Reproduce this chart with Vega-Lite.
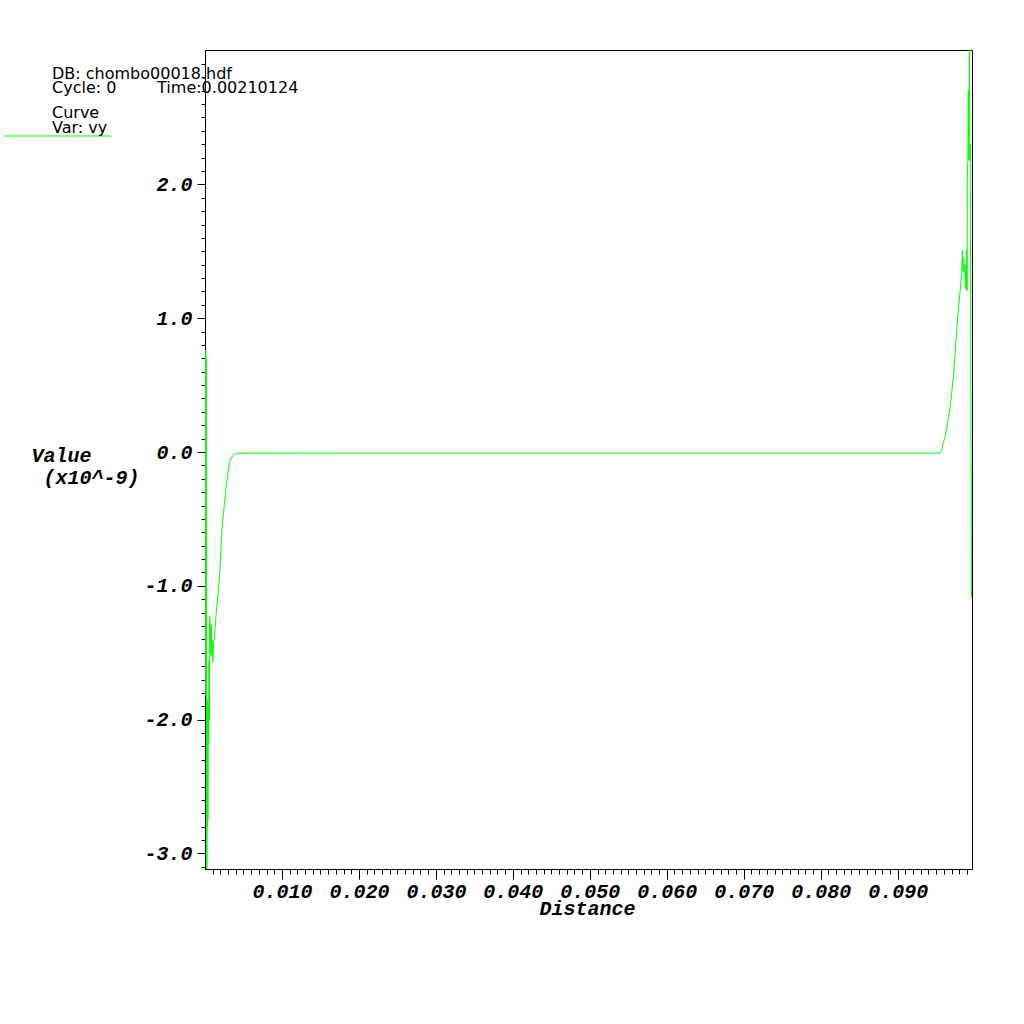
{
  "$schema": "https://vega.github.io/schema/vega-lite/v6.json",
  "width": 767,
  "height": 819,
  "autosize": {"type": "none"},
  "padding": {"left": 205, "top": 50, "right": 52, "bottom": 155},
  "background": "white",
  "config": {
    "view": {"stroke": "black", "strokeWidth": 1},
    "axis": {"grid": false, "domainColor": "black", "tickColor": "black", "labelColor": "black", "titleColor": "black", "domainWidth": 1, "tickWidth": 1}
  },
  "title": {
    "text": ["DB: chombo00018.hdf", "Cycle: 0\u00a0\u00a0\u00a0\u00a0\u00a0\u00a0\u00a0\u00a0Time:0.00210124"],
    "subtitle": ["Curve", "Var: vy"],
    "anchor": "start",
    "frame": "group",
    "orient": "top",
    "offset": 0,
    "dx": -153,
    "dy": 86,
    "font": "DejaVu Sans",
    "fontSize": 16,
    "fontWeight": "normal",
    "lineHeight": 14.5,
    "color": "black",
    "subtitleFont": "DejaVu Sans",
    "subtitleFontSize": 16,
    "subtitleFontWeight": "normal",
    "subtitleLineHeight": 15,
    "subtitleColor": "black",
    "subtitlePadding": 9
  },
  "data": {
    "values": [
      {"x": 0.00000, "y": -1.82},
      {"x": 0.00010, "y": 0.76},
      {"x": 0.00013, "y": -1.82},
      {"x": 0.00016, "y": 0.70},
      {"x": 0.00019, "y": -1.80},
      {"x": 0.00022, "y": -1.83},
      {"x": 0.00025, "y": -3.116},
      {"x": 0.00028, "y": -1.85},
      {"x": 0.00031, "y": -2.80},
      {"x": 0.00034, "y": -1.85},
      {"x": 0.00038, "y": -2.75},
      {"x": 0.00043, "y": -1.90},
      {"x": 0.00048, "y": -2.18},
      {"x": 0.00052, "y": -1.56},
      {"x": 0.00058, "y": -2.0},
      {"x": 0.00062, "y": -1.23},
      {"x": 0.00066, "y": -1.41},
      {"x": 0.00072, "y": -1.29},
      {"x": 0.00077, "y": -1.52},
      {"x": 0.00082, "y": -1.29},
      {"x": 0.00089, "y": -1.50},
      {"x": 0.00095, "y": -1.41},
      {"x": 0.00102, "y": -1.57},
      {"x": 0.00110, "y": -1.43},
      {"x": 0.00120, "y": -1.40},
      {"x": 0.00129, "y": -1.33},
      {"x": 0.00142, "y": -1.23},
      {"x": 0.00155, "y": -1.14},
      {"x": 0.00168, "y": -1.07},
      {"x": 0.00181, "y": -0.98},
      {"x": 0.00194, "y": -0.88},
      {"x": 0.00207, "y": -0.73},
      {"x": 0.00220, "y": -0.58},
      {"x": 0.00238, "y": -0.47},
      {"x": 0.00251, "y": -0.40},
      {"x": 0.00264, "y": -0.32},
      {"x": 0.00281, "y": -0.23},
      {"x": 0.00298, "y": -0.16},
      {"x": 0.00316, "y": -0.08},
      {"x": 0.00342, "y": -0.046},
      {"x": 0.00368, "y": -0.023},
      {"x": 0.00394, "y": -0.016},
      {"x": 0.00430, "y": -0.009},
      {"x": 0.0200, "y": -0.008},
      {"x": 0.0500, "y": -0.008},
      {"x": 0.0800, "y": -0.008},
      {"x": 0.09550, "y": -0.008},
      {"x": 0.09572, "y": 0.014},
      {"x": 0.09593, "y": 0.067},
      {"x": 0.09615, "y": 0.11},
      {"x": 0.09637, "y": 0.18},
      {"x": 0.09658, "y": 0.25},
      {"x": 0.09680, "y": 0.33},
      {"x": 0.09702, "y": 0.44},
      {"x": 0.09723, "y": 0.56},
      {"x": 0.09745, "y": 0.72},
      {"x": 0.09767, "y": 0.91},
      {"x": 0.09788, "y": 1.06},
      {"x": 0.09810, "y": 1.19},
      {"x": 0.09832, "y": 1.34},
      {"x": 0.09842, "y": 1.51},
      {"x": 0.09848, "y": 1.36},
      {"x": 0.09858, "y": 1.45},
      {"x": 0.09866, "y": 1.34},
      {"x": 0.09874, "y": 1.40},
      {"x": 0.09880, "y": 1.23},
      {"x": 0.09886, "y": 1.36},
      {"x": 0.09892, "y": 1.21},
      {"x": 0.09896, "y": 1.51},
      {"x": 0.09902, "y": 1.21},
      {"x": 0.09906, "y": 2.09},
      {"x": 0.09912, "y": 2.18},
      {"x": 0.09918, "y": 2.70},
      {"x": 0.09922, "y": 2.18},
      {"x": 0.09928, "y": 2.45},
      {"x": 0.09932, "y": 3.004},
      {"x": 0.09938, "y": 2.18},
      {"x": 0.09944, "y": 2.30},
      {"x": 0.09950, "y": 0.55},
      {"x": 0.09960, "y": -1.09}
    ]
  },
  "mark": {"type": "line", "strokeWidth": 1, "clip": true, "interpolate": "linear"},
  "encoding": {
    "x": {
      "field": "x",
      "type": "quantitative",
      "scale": {"domain": [0, 0.09966], "nice": false, "zero": false},
      "axis": {
        "orient": "bottom",
        "title": "Distance",
        "titleFont": "Liberation Mono",
        "titleFontWeight": "bold",
        "titleFontStyle": "italic",
        "titleFontSize": 20,
        "titleBaseline": "alphabetic",
        "titleAlign": "center",
        "titleX": 382,
        "titleY": 45,
        "values": [0.001,0.002,0.003,0.004,0.005,0.006,0.007,0.008,0.009,0.010,0.011,0.012,0.013,0.014,0.015,0.016,0.017,0.018,0.019,0.020,0.021,0.022,0.023,0.024,0.025,0.026,0.027,0.028,0.029,0.030,0.031,0.032,0.033,0.034,0.035,0.036,0.037,0.038,0.039,0.040,0.041,0.042,0.043,0.044,0.045,0.046,0.047,0.048,0.049,0.050,0.051,0.052,0.053,0.054,0.055,0.056,0.057,0.058,0.059,0.060,0.061,0.062,0.063,0.064,0.065,0.066,0.067,0.068,0.069,0.070,0.071,0.072,0.073,0.074,0.075,0.076,0.077,0.078,0.079,0.080,0.081,0.082,0.083,0.084,0.085,0.086,0.087,0.088,0.089,0.090,0.091,0.092,0.093,0.094,0.095,0.096,0.097,0.098,0.099],
        "labelExpr": "abs(datum.value*100 - round(datum.value*100)) < 0.001 ? format(datum.value, '.3f') : ''",
        "labelFont": "Liberation Mono",
        "labelFontWeight": "bold",
        "labelFontStyle": "italic",
        "labelFontSize": 20,
        "labelPadding": 2,
        "labelOverlap": false,
        "labelFlush": false,
        "tickSize": {"condition": {"test": "abs(datum.value*100 - round(datum.value*100)) < 0.001", "value": 10}, "value": 5}
      }
    },
    "y": {
      "field": "y",
      "type": "quantitative",
      "scale": {"domain": [-3.116, 3.004], "nice": false, "zero": false},
      "axis": {
        "orient": "left",
        "title": ["Value", "\u200b\u00a0(x10^-9)"],
        "titleAngle": 0,
        "titleAlign": "left",
        "titleBaseline": "alphabetic",
        "titleX": -174,
        "titleY": 411,
        "titleLineHeight": 22,
        "titleFont": "Liberation Mono",
        "titleFontWeight": "bold",
        "titleFontStyle": "italic",
        "titleFontSize": 20,
        "values": [-3.1,-3.0,-2.9,-2.8,-2.7,-2.6,-2.5,-2.4,-2.3,-2.2,-2.1,-2.0,-1.9,-1.8,-1.7,-1.6,-1.5,-1.4,-1.3,-1.2,-1.1,-1.0,-0.9,-0.8,-0.7,-0.6,-0.5,-0.4,-0.3,-0.2,-0.1,0,0.1,0.2,0.3,0.4,0.5,0.6,0.7,0.8,0.9,1.0,1.1,1.2,1.3,1.4,1.5,1.6,1.7,1.8,1.9,2.0,2.1,2.2,2.3,2.4,2.5,2.6,2.7,2.8,2.9],
        "labelExpr": "abs(datum.value - round(datum.value)) < 0.001 ? replace(format(datum.value, '.1f'), '−', '-') : ''",
        "labelFont": "Liberation Mono",
        "labelFontWeight": "bold",
        "labelFontStyle": "italic",
        "labelFontSize": 20,
        "labelPadding": 5,
        "labelOverlap": false,
        "labelFlush": false,
        "labelBaseline": "middle",
        "tickSize": {"condition": {"test": "abs(datum.value - round(datum.value)) < 0.001", "value": 8}, "value": 4}
      }
    },
    "color": {
      "datum": "vy",
      "scale": {"range": ["#00ff00"]},
      "legend": {
        "orient": "none",
        "legendX": -201,
        "legendY": 32,
        "title": null,
        "symbolType": "stroke",
        "symbolSize": 11449,
        "symbolStrokeWidth": 1,
        "symbolStrokeColor": "#00ff00",
        "labelExpr": "''",
        "padding": 0,
        "symbolOffset": 0
      }
    }
  }
}
